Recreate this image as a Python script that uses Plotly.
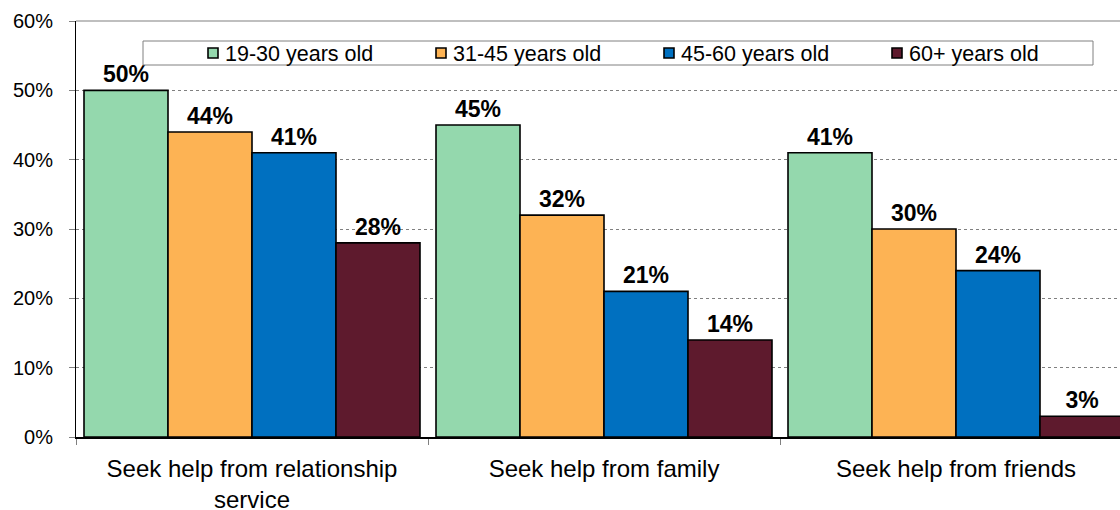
import plotly.graph_objects as go

# Survey data: share of respondents per age band for each help source (%)
categories = ["Seek help from relationship<br>service", "Seek help from family", "Seek help from friends"]
series_names = ["19-30 years old", "31-45 years old", "45-60 years old", "60+ years old"]
age_19_30 = [50, 45, 41]
age_31_45 = [44, 32, 30]
age_45_60 = [41, 21, 24]
age_60_plus = [28, 14, 3]
y_ticks = [0, 10, 20, 30, 40, 50, 60]
y_tick_labels = ["0%", "10%", "20%", "30%", "40%", "50%", "60%"]

series_values = [age_19_30, age_31_45, age_45_60, age_60_plus]
colors = ["#94D8AD", "#FDB354", "#0070C0", "#5E1A2D"]

FONT = "Liberation Sans, Arial, sans-serif"
W, H = 1120, 510
ML, MR, MT, MB = 76, 0, 21, 73
PW, PH = W - ML - MR, H - MT - MB


def px_x(px):
    return (px - ML) / PW


def px_y(py):
    return (H - MB - py) / PH


fig = go.Figure()
for name, vals, col in zip(series_names, series_values, colors):
    fig.add_trace(go.Bar(
        x=categories, y=vals, name=name,
        marker=dict(color=col, line=dict(color="#000000", width=1.6)),
        text=vals, texttemplate="%{text}%", textposition="outside",
        textfont=dict(family=FONT, size=23, color="#000000", weight="bold"),
        cliponaxis=False, showlegend=False,
    ))

# the visible plot spans slightly less than three full category slots
category_px = 352
x_end = -0.5 + PW / category_px

fig.update_layout(
    width=W, height=H,
    margin=dict(l=ML, r=MR, t=MT, b=MB, pad=0),
    paper_bgcolor="#FFFFFF", plot_bgcolor="#FFFFFF",
    barmode="group", bargap=16 / category_px, bargroupgap=0,
    font=dict(family=FONT, color="#000000"),
    showlegend=False,
    xaxis=dict(
        type="category", range=[-0.5, x_end], automargin=False,
        tickson="boundaries", ticks="outside", ticklen=6, tickcolor="#808080",
        showgrid=False, showline=True, linecolor="#000000", linewidth=1.5,
        tickfont=dict(family=FONT, size=24, color="#000000"),
        ticklabelstandoff=9,
    ),
    yaxis=dict(
        range=[0, 60], tickvals=y_ticks, ticktext=y_tick_labels, automargin=False,
        ticks="outside", ticklen=6, tickcolor="#808080",
        showgrid=True, gridcolor="#808080", griddash="dot", gridwidth=1,
        zeroline=False, showline=True, linecolor="#000000", linewidth=1,
        tickfont=dict(family=FONT, size=20, color="#000000"),
        ticklabelstandoff=12,
    ),
)

shapes = []
annotations = []

# solid top border of the plot area
shapes.append(dict(type="line", xref="paper", yref="paper", x0=0, x1=1, y0=1, y1=1,
                   line=dict(color="#808080", width=1.2)))

# legend frame with a row of swatches and labels
box_l, box_r, box_t, box_b = 143, 1093, 41, 65
shapes.append(dict(type="rect", xref="paper", yref="paper",
                   x0=px_x(box_l), x1=px_x(box_r), y0=px_y(box_b), y1=px_y(box_t),
                   line=dict(color="#808080", width=1), fillcolor="#FFFFFF", layer="above"))
mid_y = (box_t + box_b) / 2
sw = 10
for i, (name, col) in enumerate(zip(series_names, colors)):
    left = 208 + i * 228
    shapes.append(dict(type="rect", xref="paper", yref="paper",
                       x0=px_x(left), x1=px_x(left + sw),
                       y0=px_y(mid_y + sw / 2), y1=px_y(mid_y - sw / 2),
                       line=dict(color="#000000", width=1.6), fillcolor=col, layer="above"))
    annotations.append(dict(xref="paper", yref="paper", x=px_x(left + sw + 5), y=px_y(mid_y + 1),
                            text=name, showarrow=False, xanchor="left", yanchor="middle",
                            font=dict(family=FONT, size=21.5, color="#000000")))

fig.update_layout(shapes=shapes, annotations=annotations)
fig.write_html("out.html")
